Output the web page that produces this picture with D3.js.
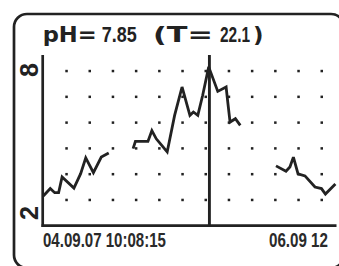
<!DOCTYPE html>
<html><head><meta charset="utf-8">
<script src="https://cdn.jsdelivr.net/npm/d3@7"></script>
<style>html,body{margin:0;padding:0;background:#fff;overflow:hidden}svg{display:block}</style>
</head><body>
<script>
// ---- data ----
const titleParts = ["pH=", "7.85", "(T=", "22.1", ")"];
const startLabel = "04.09.07 10:08:15";
const endLabel = "06.09 12";
const yTickLabels = ["2", "8"];
const yDomain = [2, 8];
const gridCols = [1,2,3,4,5,6,7,8,9,10,11,12];
const gridRows = [3,4,5,6,7,8];
const cursorT = 7.16;
// segments: time (grid divisions since start) and pH values
const seg1T = [0, 0.30, 0.49, 0.66, 0.81, 1.32, 1.61, 1.83, 2.16, 2.50, 2.82];
const seg1V = [3.15, 3.44, 3.28, 3.28, 3.89, 3.46, 4.02, 4.63, 4.06, 4.66, 4.82];
const seg2T = [3.87, 3.97, 4.51, 4.68, 4.87, 5.34, 5.66, 5.98, 6.32, 6.47, 6.66, 6.87, 7.13, 7.52, 7.88, 7.95, 8.05, 8.28, 8.49];
const seg2V = [4.99, 5.27, 5.27, 5.69, 5.37, 4.86, 6.28, 7.38, 6.28, 6.41, 6.28, 7.06, 8.16, 7.21, 7.38, 6.80, 6.02, 6.15, 5.89];
const seg3T = [10.03, 10.46, 10.63, 10.78, 10.98, 11.28, 11.71, 11.99, 12.16, 12.59];
const seg3V = [4.32, 4.11, 4.28, 4.66, 4.01, 3.93, 3.50, 3.44, 3.23, 3.62];

const W = 339, H = 266;
const ink = "#222";
const svg = d3.select("body").append("svg").attr("width", W).attr("height", H);

const x = d3.scaleLinear().domain([0, 1]).range([43.3, 66.5]);
const y = d3.scaleLinear().domain(yDomain).range([225.7, 71]);

// outer frame
svg.append("rect").attr("x", 14).attr("y", 14).attr("width", 330).attr("height", 254)
  .attr("rx", 13).attr("fill", "none").attr("stroke", ink).attr("stroke-width", 2.7);

// grid dots
const dots = [];
gridCols.forEach(c => gridRows.forEach(r => dots.push([c, r])));
svg.append("g").selectAll("rect").data(dots).join("rect")
  .attr("x", d => x(d[0]) - 1.2).attr("y", d => y(d[1]) - 1.2)
  .attr("width", 2.5).attr("height", 2.5).attr("fill", ink);

// axes
svg.append("line").attr("x1", x(0) - 0.6).attr("x2", x(0) - 0.6)
  .attr("y1", y(8.62)).attr("y2", y(2) + 1.3).attr("stroke", ink).attr("stroke-width", 2.7);
svg.append("line").attr("x1", x(0) - 1.8).attr("x2", 336.5)
  .attr("y1", y(2)).attr("y2", y(2)).attr("stroke", ink).attr("stroke-width", 2.7);

// data line
const line = d3.line().x(d => x(d[0])).y(d => y(d[1]));
[[seg1T, seg1V], [seg2T, seg2V], [seg3T, seg3V]].forEach(([ts, vs]) => {
  svg.append("path").datum(ts.map((t, i) => [t, vs[i]]))
    .attr("d", line).attr("fill", "none").attr("stroke", ink)
    .attr("stroke-width", 2.8).attr("stroke-linejoin", "miter").attr("stroke-miterlimit", 3);
});

// cursor
svg.append("line").attr("x1", x(cursorT)).attr("x2", x(cursorT))
  .attr("y1", y(8.62)).attr("y2", y(2) + 1.3).attr("stroke", ink).attr("stroke-width", 2.9);

// helper: text squeezed horizontally to a given width
function fitText(g, d, baseY, color) {
  const t = g.append("text").attr("x", 0).attr("y", 0)
    .attr("font-family", d.f).attr("font-weight", "bold").attr("font-size", d.s)
    .attr("fill", color).text(d.t);
  const nat = t.node().getComputedTextLength() || d.w;
  t.attr("transform", `translate(${d.x},${baseY}) scale(${d.w / nat},1)`);
}

// title
const wide = "'DejaVu Sans', Verdana, sans-serif";
const narrow = "'Liberation Sans', Arial, sans-serif";
const tp = [
  {t: titleParts[0], x: 42.7, w: 54, f: wide, s: 21},
  {t: titleParts[1], x: 101.7, w: 35, f: narrow, s: 22},
  {t: titleParts[2], x: 153, w: 60, f: wide, s: 21},
  {t: titleParts[3], x: 220, w: 30, f: narrow, s: 22},
  {t: titleParts[4], x: 253, w: 10.5, f: wide, s: 21}
];
const tg = svg.append("g");
tp.forEach(d => fitText(tg, d, 41.7, ink));

// y tick labels (rotated)
const yl = [
  {t: yTickLabels[0], cy: 213},
  {t: yTickLabels[1], cy: 70}
];
svg.append("g").selectAll("text").data(yl).join("text")
  .attr("transform", d => `translate(37.5,${d.cy}) rotate(-90)`)
  .attr("text-anchor", "middle").attr("font-family", narrow).attr("font-weight", "bold")
  .attr("font-size", 25).attr("fill", ink).text(d => d.t);

// x labels
const xl = [
  {t: startLabel, x: 43, w: 123, f: narrow, s: 20},
  {t: endLabel, x: 269, w: 59, f: narrow, s: 20}
];
const xg = svg.append("g");
xl.forEach(d => fitText(xg, d, 246.5, "#2a2a2a"));
</script>
</body></html>
